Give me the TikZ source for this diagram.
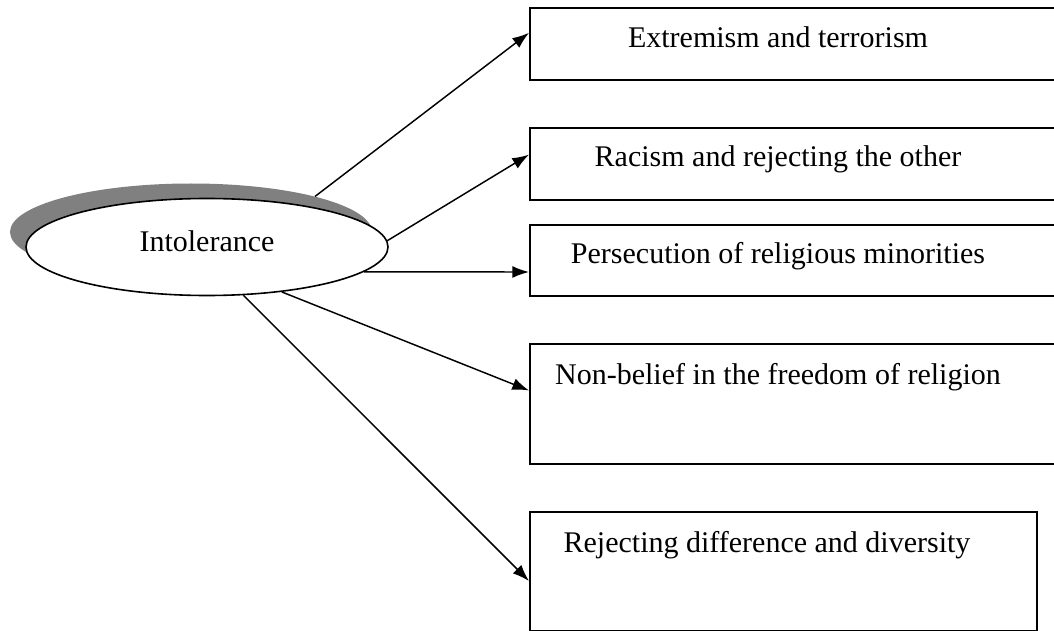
\documentclass[tikz,border=0pt]{standalone}
\usepackage{fontspec}
\setmainfont{Liberation Serif}
\usetikzlibrary{shapes.geometric,arrows.meta,calc}
\begin{document}
\begin{tikzpicture}[x=0.75pt,y=-0.75pt,
  box/.style={draw, line width=1.3pt, rectangle, inner sep=0pt, anchor=north west},
  lbl/.style={anchor=base, inner sep=0pt, font=\fontsize{22.5}{27}\selectfont},
  conn/.style={line width=1.1pt, -{Latex[length=12.5pt,width=9pt]}}]
\clip (0,0) rectangle (1054,631);
\definecolor{shade}{RGB}{128,128,128}
\node[ellipse, fill=shade, minimum width=271.5pt, minimum height=72.75pt, inner sep=0pt] (shadow) at (191,232) {};
\node[ellipse, draw, fill=white, line width=1.2pt, minimum width=271.5pt, minimum height=72.75pt, inner sep=0pt] (ell) at (207,247) {};
\node[lbl, anchor=center] (intol) at (207,241) {Intolerance};

\node[box, minimum width=405.75pt, minimum height=54pt] (b1) at (529,7) {};
\node[box, minimum width=405.75pt, minimum height=54pt] (b2) at (529,127) {};
\node[box, minimum width=405.75pt, minimum height=53.25pt] (b3) at (529,224) {};
\node[box, minimum width=405.75pt, minimum height=90pt] (b4) at (529,343) {};
\node[box, minimum width=380.25pt, minimum height=89.25pt] (b5) at (529,511) {};

\node[lbl] (t1) at (778,48) {Extremism and terrorism};
\node[lbl] (t2) at (778,167) {Racism and rejecting the other};
\node[lbl] (t3) at (778,263) {Persecution of religious minorities};
\node[lbl] (t4) at (778,384) {Non-belief in the freedom of religion};
\node[lbl] (t5) at (767,552) {Rejecting difference and diversity};

\draw[conn] (shadow.16) -- ($(b1.north west)!0.35!(b1.south west)$);
\draw[conn] (ell.2) -- ($(b2.north west)!0.375!(b2.south west)$);
\draw[conn] (ell.-9.4) -- ($(b3.north west)!0.66!(b3.south west)$);
\draw[conn] (ell.-31) -- ($(b4.north west)!0.39!(b4.south west)$);
\draw[conn] (ell.-53) -- ($(b5.north west)!0.58!(b5.south west)$);
\end{tikzpicture}
\end{document}
